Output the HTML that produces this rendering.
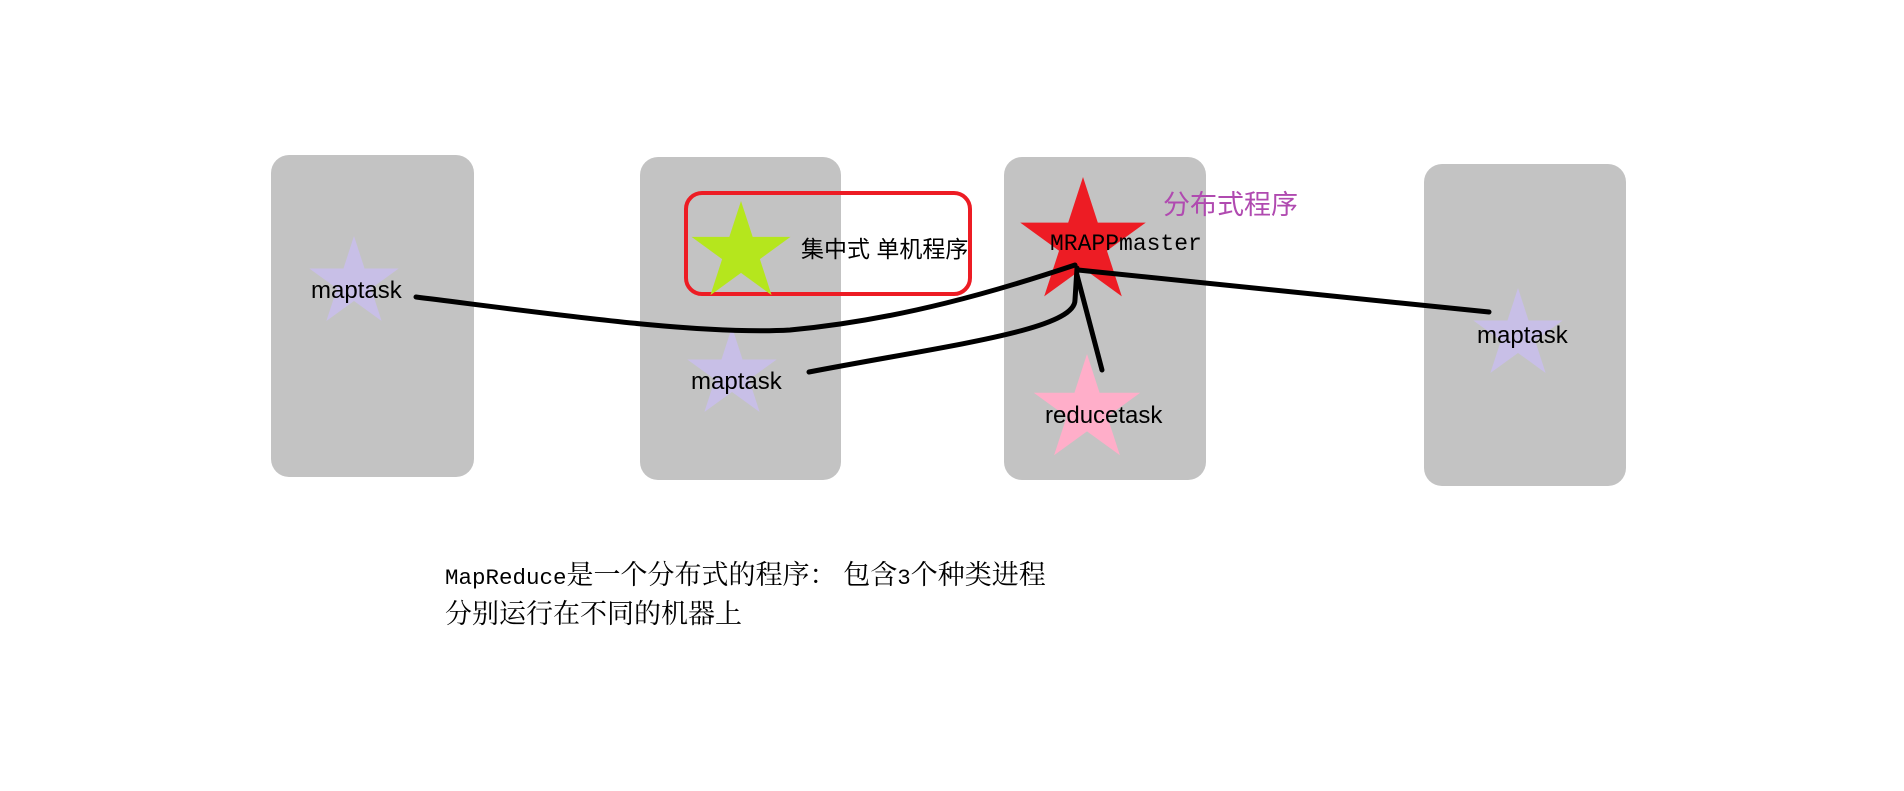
<!DOCTYPE html>
<html><head><meta charset="utf-8"><style>
body{margin:0;background:#fff;}
svg text{font-family:"Liberation Sans","Noto Sans CJK SC",sans-serif;}
.m{font-family:"Liberation Mono",monospace;}
</style></head><body>
<svg width="1904" height="786" viewBox="0 0 1904 786" xmlns="http://www.w3.org/2000/svg">
<defs>
<polygon id="st" points="0,-1 0.2245,-0.309 0.951,-0.309 0.363,0.118 0.588,0.809 0,0.382 -0.588,0.809 -0.363,0.118 -0.951,-0.309 -0.2245,-0.309"/>
</defs>
<rect x="271" y="155" width="203" height="322" rx="18" fill="#c3c3c3"/>
<rect x="640" y="157" width="201" height="323" rx="18" fill="#c3c3c3"/>
<rect x="1004" y="157" width="202" height="323" rx="18" fill="#c3c3c3"/>
<rect x="1424" y="164" width="202" height="322" rx="18" fill="#c3c3c3"/>
<rect x="686" y="193" width="284" height="101" rx="16" fill="none" stroke="#ed1c24" stroke-width="4"/>
<use href="#st" transform="translate(741,253) scale(52)" fill="#b5e61d"/>
<use href="#st" transform="translate(1083,243) scale(66)" fill="#ed1c24"/>
<use href="#st" transform="translate(354,283) scale(47)" fill="#c8bfe7"/>
<use href="#st" transform="translate(732,374) scale(47)" fill="#c8bfe7"/>
<use href="#st" transform="translate(1518,335) scale(47)" fill="#c8bfe7"/>
<use href="#st" transform="translate(1087,410) scale(56)" fill="#ffaec9"/>
<g fill="none" stroke="#000" stroke-width="5" stroke-linecap="round">
<path d="M416 297 C 560 315, 700 335, 790 330 C 900 320, 1000 290, 1075 265"/>
<path d="M809 372 C 950 345, 1075 330, 1075 300 L 1077 268"/>
<path d="M1102 370 L 1077 275"/>
<path d="M1078 270 L 1489 312"/>
</g>
<text x="311" y="298" font-size="24">maptask</text>
<text x="691" y="389" font-size="24">maptask</text>
<text x="1477" y="343" font-size="24">maptask</text>
<text x="1045" y="423" font-size="24">reducetask</text>
<text x="801" y="257" font-size="23">集中式 单机程序</text>
<text x="1050" y="250" font-size="23" class="m">MRAPPmaster</text>
<text x="1163" y="214" font-size="27" fill="#b04ab0">分布式程序</text>
<text x="445" y="584" font-size="27" style="font-family:'Liberation Serif','Noto Serif CJK SC',serif"><tspan class="m" font-size="22.5">MapReduce</tspan>是一个分布式的程序：  包含<tspan class="m" font-size="22.5">3</tspan>个种类进程</text>
<text x="445" y="623" font-size="27" style="font-family:'Liberation Serif','Noto Serif CJK SC',serif">分别运行在不同的机器上</text>
</svg>
</body></html>
